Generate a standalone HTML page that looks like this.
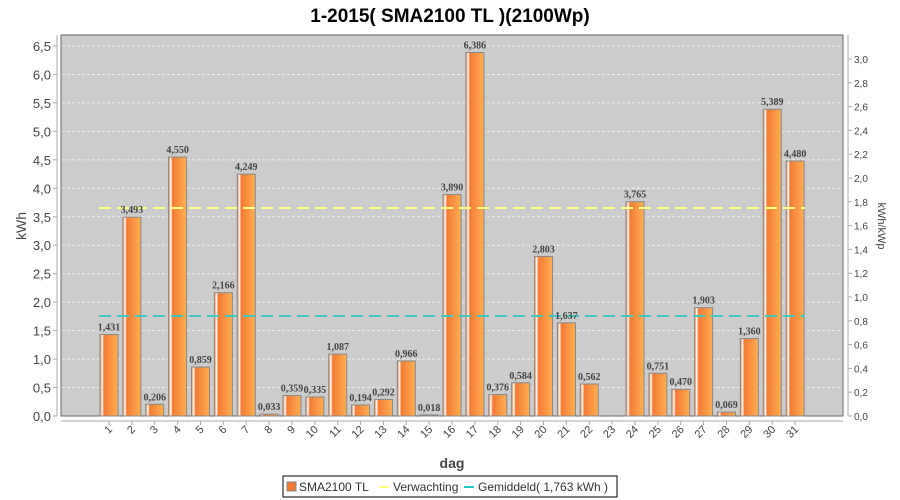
<!DOCTYPE html>
<html><head><meta charset="utf-8"><style>body{margin:0;background:#fff}svg{display:block}</style></head>
<body>
<svg id="s" width="900" height="500" xmlns="http://www.w3.org/2000/svg" font-family="Liberation Sans, sans-serif">
<defs>
<linearGradient id="g" x1="0" x2="1" y1="0" y2="0">
<stop offset="0" stop-color="#f07a30"/><stop offset="0.12" stop-color="#ffffff"/><stop offset="0.22" stop-color="#f57a35"/><stop offset="1" stop-color="#ffb050"/>
</linearGradient>
</defs>
<text x="450" y="22" text-anchor="middle" font-size="19" font-weight="bold" fill="#000">1-2015( SMA2100 TL )(2100Wp)</text>
<rect x="61" y="35" width="782" height="381" fill="#cccccc" stroke="#666" stroke-width="1"/>
<g id="grid"></g>
<line x1="57" y1="35" x2="57" y2="416" stroke="#aaa"/>
<line x1="848" y1="35" x2="848" y2="416" stroke="#aaa"/>
<line x1="61" y1="421" x2="843" y2="421" stroke="#aaa"/>
<g id="bars"></g>
<line x1="99" y1="208" x2="805" y2="208" stroke="#ffff80" stroke-width="2" stroke-dasharray="12,6"/>
<line x1="99" y1="316" x2="805" y2="316" stroke="#40c8c0" stroke-width="2" stroke-dasharray="12,6"/>
<g id="lbl"></g>
<text transform="translate(26,226) rotate(-90)" text-anchor="middle" font-size="14" fill="#444">kWh</text>
<text transform="translate(878,226) rotate(90)" text-anchor="middle" font-size="11" fill="#444">kWh/kWp</text>
<text x="452" y="468" text-anchor="middle" font-size="14" font-weight="bold" fill="#444">dag</text>
<rect x="283" y="476" width="334" height="21" fill="#fff" stroke="#000"/>
<rect x="287" y="482" width="9" height="9" fill="#f07a30" stroke="#888"/>
<text x="299" y="491" font-size="12" fill="#333">SMA2100 TL</text>
<line x1="379" y1="487" x2="389" y2="487" stroke="#ffff80" stroke-width="2"/>
<text x="393" y="491" font-size="12" fill="#333">Verwachting</text>
<line x1="464" y1="487" x2="474" y2="487" stroke="#20d0c8" stroke-width="2"/>
<text x="478" y="491" font-size="12" fill="#333">Gemiddeld( 1,763 kWh )</text>
</svg>
<script>
var NS="http://www.w3.org/2000/svg";
function el(p,t,a,tx){var e=document.createElementNS(NS,t);for(var k in a)e.setAttribute(k,a[k]);if(tx!==undefined)e.textContent=tx;document.getElementById(p).appendChild(e);return e;}
var k=370/6.5;
for(var v=0;v<=13;v++){var y=416-v*0.5*k;
 if(v>0)el("grid","line",{x1:62,x2:842,y1:y,y2:y,stroke:"#eee","stroke-dasharray":"3,2"});
 el("lbl","line",{x1:53,x2:57,y1:y,y2:y,stroke:"#aaa"});
 el("lbl","text",{x:51,y:y+5,"text-anchor":"end","font-size":"13",fill:"#444"},(v*0.5).toFixed(1).replace(".",","));}
for(var r=0;r<=15;r++){var y=416-r*0.2*119;
 el("lbl","line",{x1:848,x2:852,y1:y,y2:y,stroke:"#aaa"});
 el("lbl","text",{x:854,y:y+4,"font-size":"10",fill:"#444"},(r*0.2).toFixed(1).replace(".",","));}
var d=[1.431,3.493,0.206,4.550,0.859,2.166,4.249,0.033,0.359,0.335,1.087,0.194,0.292,0.966,0.018,3.890,6.386,0.376,0.584,2.803,1.637,0.562,0,3.765,0.751,0.470,1.903,0.069,1.360,5.389,4.480];
for(var i=0;i<31;i++){var c=109+i*22.87,h=d[i]*k,y=416-h;
 if(d[i]>0){el("bars","rect",{x:c-9,y:y,width:18,height:h,fill:"url(#g)",stroke:"#888","stroke-width":"1"});
 el("lbl","text",{x:c,y:y-4,"text-anchor":"middle","font-size":"10","font-weight":"bold","font-family":"Liberation Serif, serif",fill:"#444"},d[i].toFixed(3).replace(".",","));}
 el("lbl","line",{x1:c,x2:c,y1:421,y2:425,stroke:"#aaa"});
 el("lbl","text",{transform:"translate("+(c+4)+",430) rotate(-45)","text-anchor":"end","font-size":"11",fill:"#444"},String(i+1));}
</script>
</body></html>
